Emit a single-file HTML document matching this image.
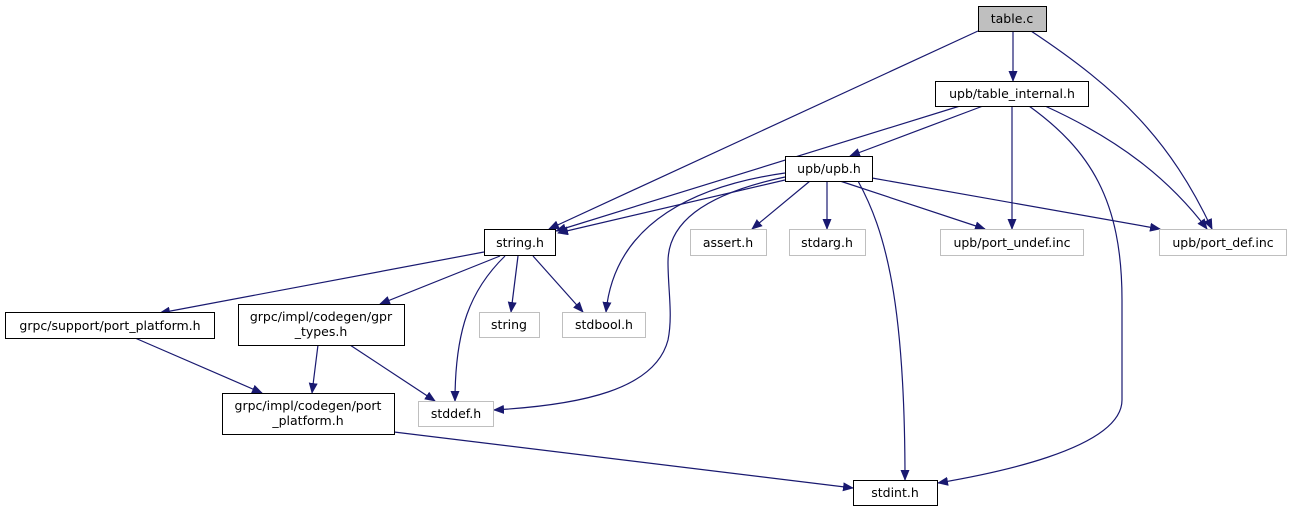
<!DOCTYPE html>
<html><head><meta charset="utf-8"><style>html,body{margin:0;padding:0;background:#fff}svg{display:block}</style></head><body>
<svg width="1291" height="515" viewBox="0 0 1291 515" xmlns="http://www.w3.org/2000/svg" font-family="DejaVu Sans, Liberation Sans, sans-serif" font-size="12.5">
<defs><marker id="a" markerUnits="userSpaceOnUse" markerWidth="11" markerHeight="9" refX="10" refY="4.5" orient="auto"><path d="M0,0 L11,4.5 L0,9 Z" fill="#191970"/></marker></defs>
<g fill="none" stroke="#191970" stroke-width="1.2" marker-end="url(#a)">
<path d="M978,31 L549,229"/>
<path d="M1013,31 L1013,81"/>
<path d="M1031,31 C1120,90 1170,140 1212,229"/>
<path d="M960,106 L556,231"/>
<path d="M983,106 L850,156"/>
<path d="M1012,106 L1012,229"/>
<path d="M1029,106 C1090,150 1122,200 1122,300 L1122,400 C1122,450 985,475 938,483"/>
<path d="M1045,106 C1120,140 1170,180 1207,229"/>
<path d="M785,180 L558,233"/>
<path d="M785,173 C700,185 615,220 606,312"/>
<path d="M785,177 C700,195 668,225 668,262 C668,290 673,315 668,340 C655,390 580,405 494,410"/>
<path d="M810,181 L752,229"/>
<path d="M827,181 L827,229"/>
<path d="M840,181 L985,229"/>
<path d="M872,178 L1160,229"/>
<path d="M858,181 C885,230 905,300 905,480"/>
<path d="M484,252 L160,313"/>
<path d="M500,256 L380,304"/>
<path d="M505,256 C470,290 455,330 455,401"/>
<path d="M518,256 L511,312"/>
<path d="M533,256 L583,312"/>
<path d="M135,338 L262,393"/>
<path d="M318,345 L312,393"/>
<path d="M350,345 L435,401"/>
<path d="M394,432 L853,488"/>
</g>
<g stroke-width="1">
<rect x="978.5" y="6.5" width="68" height="25" fill="#bfbfbf" stroke="#000"/>
<rect x="935.5" y="81.5" width="153" height="25" fill="#fff" stroke="#000"/>
<rect x="785.5" y="156.5" width="87" height="25" fill="#fff" stroke="#000"/>
<rect x="484.5" y="229.5" width="71" height="26" fill="#fff" stroke="#000"/>
<rect x="690.5" y="229.5" width="76" height="26" fill="#fff" stroke="#bfbfbf"/>
<rect x="789.5" y="229.5" width="76" height="26" fill="#fff" stroke="#bfbfbf"/>
<rect x="940.5" y="229.5" width="143" height="26" fill="#fff" stroke="#bfbfbf"/>
<rect x="1159.5" y="229.5" width="127" height="26" fill="#fff" stroke="#bfbfbf"/>
<rect x="5.5" y="312.5" width="209" height="26" fill="#fff" stroke="#000"/>
<rect x="238.5" y="304.5" width="166" height="41" fill="#fff" stroke="#000"/>
<rect x="479.5" y="312.5" width="60" height="25" fill="#fff" stroke="#bfbfbf"/>
<rect x="562.5" y="312.5" width="83" height="25" fill="#fff" stroke="#bfbfbf"/>
<rect x="222.5" y="393.5" width="172" height="41" fill="#fff" stroke="#000"/>
<rect x="418.5" y="401.5" width="75" height="25" fill="#fff" stroke="#bfbfbf"/>
<rect x="853.5" y="480.5" width="84" height="25" fill="#fff" stroke="#000"/>
</g>
<g fill="#000" text-anchor="middle">
<text x="1012" y="23">table.c</text>
<text x="1012" y="98">upb/table_internal.h</text>
<text x="829" y="173">upb/upb.h</text>
<text x="520" y="247">string.h</text>
<text x="728" y="247">assert.h</text>
<text x="827" y="247">stdarg.h</text>
<text x="1012" y="247">upb/port_undef.inc</text>
<text x="1223" y="247">upb/port_def.inc</text>
<text x="110" y="330">grpc/support/port_platform.h</text>
<text x="321" y="321">grpc/impl/codegen/gpr</text>
<text x="321" y="336">_types.h</text>
<text x="509" y="329">string</text>
<text x="604" y="329">stdbool.h</text>
<text x="308" y="410">grpc/impl/codegen/port</text>
<text x="308" y="425">_platform.h</text>
<text x="456" y="418">stddef.h</text>
<text x="895" y="497">stdint.h</text>
</g>
</svg>
</body></html>
